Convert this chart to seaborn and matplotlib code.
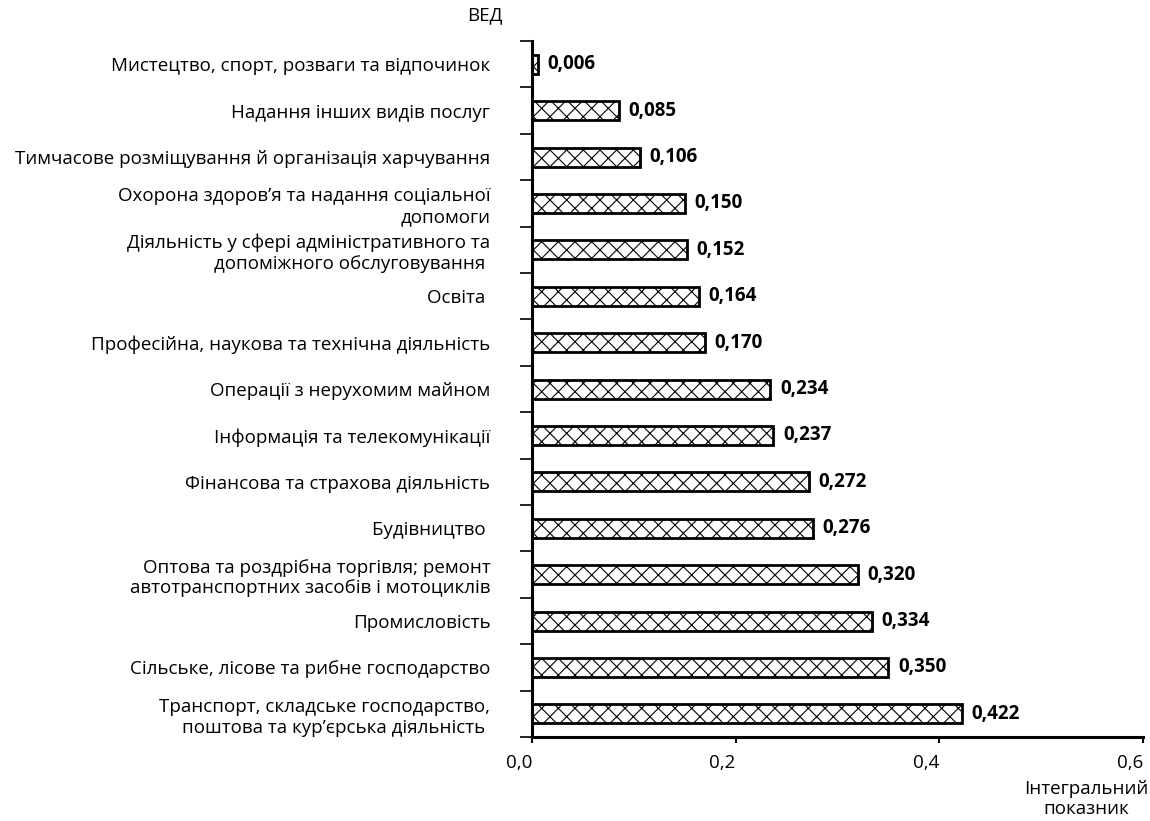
import matplotlib
matplotlib.use("Agg")
import matplotlib.pyplot as plt
import numpy as np
import pandas as pd
import seaborn as sns

# дані
categories = [
    "Мистецтво, спорт, розваги та відпочинок",
    "Надання інших видів послуг",
    "Тимчасове розміщування й організація харчування",
    "Охорона здоров’я та надання соціальної\nдопомоги",
    "Діяльність у сфері адміністративного та\nдопоміжного обслуговування ",
    "Освіта ",
    "Професійна, наукова та технічна діяльність",
    "Операції з нерухомим майном",
    "Інформація та телекомунікації",
    "Фінансова та страхова діяльність",
    "Будівництво ",
    "Оптова та роздрібна торгівля; ремонт\nавтотранспортних засобів і мотоциклів",
    "Промисловість",
    "Сільське, лісове та рибне господарство",
    "Транспорт, складське господарство,\nпоштова та кур’єрська діяльність ",
]
values = [0.006, 0.085, 0.106, 0.150, 0.152, 0.164, 0.170, 0.234,
          0.237, 0.272, 0.276, 0.320, 0.334, 0.350, 0.422]
x_ticks = [0.0, 0.2, 0.4, 0.6]

df = pd.DataFrame({"ВЕД": categories, "value": values})

sns.set_style("ticks", {"axes.edgecolor": "black", "text.color": "black",
                        "xtick.color": "black", "ytick.color": "black",
                        "axes.labelcolor": "black"})
plt.rcParams['font.family'] = ['Open Sans', 'DejaVu Sans']
plt.rcParams['hatch.linewidth'] = 0.8

fig = plt.figure(figsize=(11.5, 8.21), dpi=100)
ax = fig.add_axes([0.4626, 0.1023, 0.5313, 0.8477])

sns.barplot(data=df, y="ВЕД", x="value", orient="h", ax=ax, width=0.41,
            color="white", edgecolor="black", linewidth=2, saturation=1)
for p in ax.patches:
    p.set_hatch("xx")

# підписи значень
labels = [f"{v:.3f}".replace(".", ",") for v in values]
ax.bar_label(ax.containers[0], labels=labels, padding=7, fontsize=13.5,
             fontweight="bold")

ax.set_xlim(0, 0.6)
ax.set_ylim(len(categories) - 0.5, -0.5)
ax.set_xticks(x_ticks)
ax.set_xticklabels([f"{t:.1f}".replace(".", ",") for t in x_ticks],
                   fontsize=13.5, ha="right")

ax.set_yticks(range(len(categories)))
ax.set_yticklabels(categories, fontsize=13.5, ha="right")
ax.tick_params(axis="y", which="major", length=0, pad=30)
ax.set_yticks(np.arange(-0.5, len(categories)), minor=True)
ax.tick_params(axis="y", which="minor", left=True, length=9, width=1.2,
               direction="out")
ax.tick_params(axis="x", bottom=True, length=4, width=1.5, direction="out",
               pad=8)

sns.despine(ax=ax, top=True, right=True)
ax.spines["left"].set_linewidth(2.2)
ax.spines["bottom"].set_linewidth(2.2)
ax.set_xlabel("")
ax.set_ylabel("")

fig.text(0.422, 0.982, "ВЕД", ha="center", va="center", fontsize=13.5)
fig.text(0.9985, 0.027, "Інтегральний\nпоказник", ha="right", va="center",
         fontsize=13.5, multialignment="center", linespacing=1.1)

fig.savefig("out.png", dpi=100)
